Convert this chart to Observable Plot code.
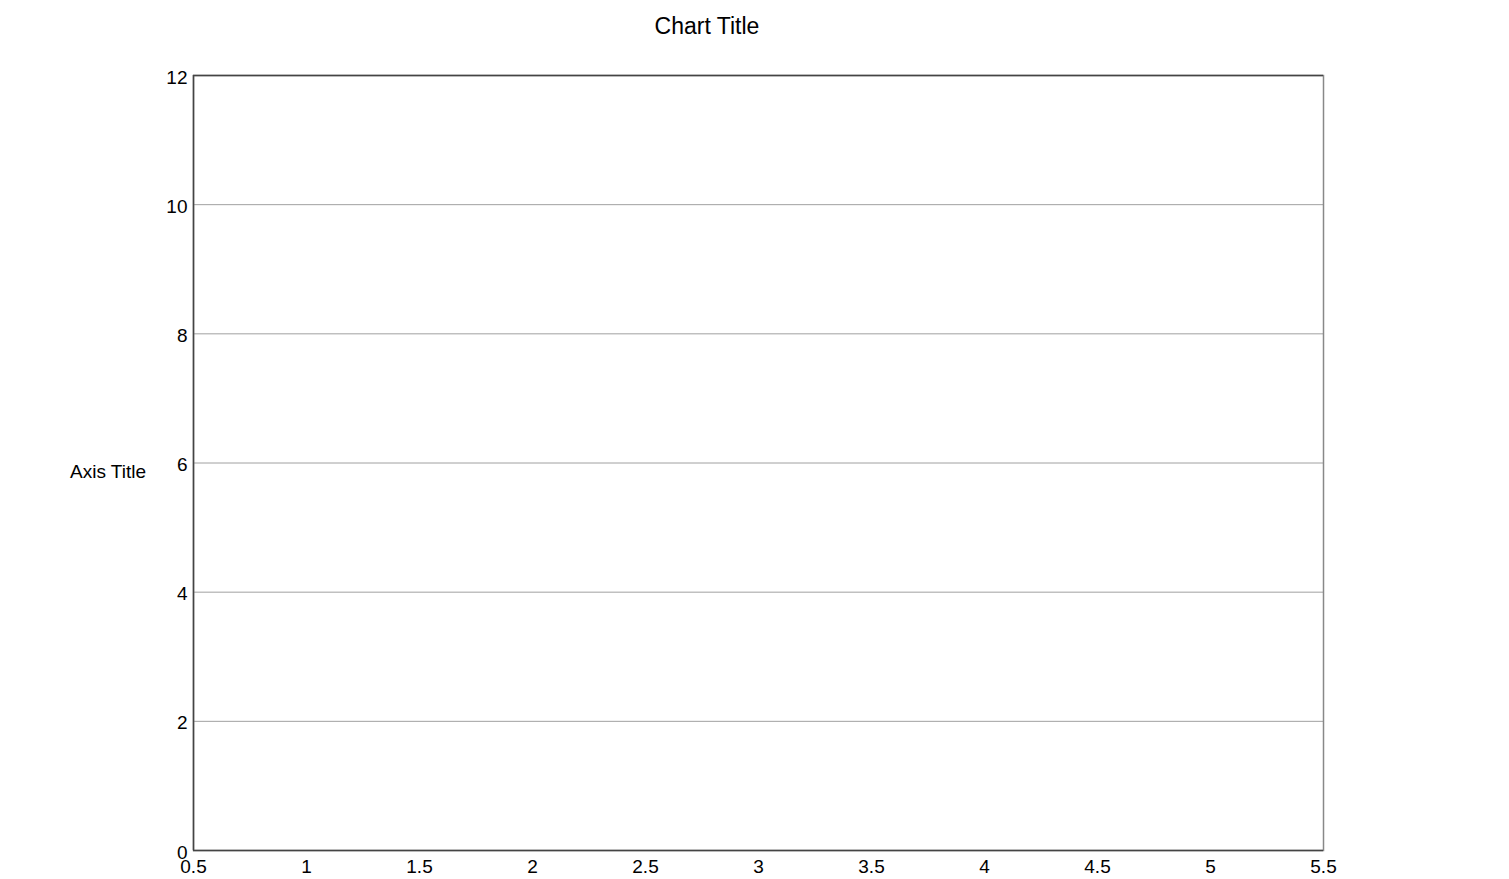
<!DOCTYPE html>
<html>
<head>
<meta charset="utf-8">
<script src="https://cdn.jsdelivr.net/npm/d3@7"></script>
<script src="https://cdn.jsdelivr.net/npm/@observablehq/plot@0.6"></script>
<style>
  html, body { margin: 0; padding: 0; background: #fff; }
  #wrap { position: relative; width: 1509px; height: 879px; font-family: "Liberation Sans", Arial, sans-serif; }
  #title { position: absolute; left: 0; width: 1414px; top: 13px; text-align: center; font-size: 23px; color: #000; }
  #ytitle { position: absolute; left: 70px; top: 461px; font-size: 19px; color: #000; }
  #chart { position: absolute; left: 0; top: 0; }
</style>
</head>
<body>
<div id="wrap">
  <div id="chart"></div>
  <div id="title">Chart Title</div>
  <div id="ytitle">Axis Title</div>
</div>
<script>
const xDomain = [0.5, 5.5];
const yDomain = [0, 12];
const xTicks = [0.5, 1, 1.5, 2, 2.5, 3, 3.5, 4, 4.5, 5, 5.5];
const yTicks = [0, 2, 4, 6, 8, 10, 12];
const gridValues = [2, 4, 6, 8, 10];

const chart = Plot.plot({
  width: 1509,
  height: 879,
  marginLeft: 193,
  marginRight: 186,
  marginTop: 75,
  marginBottom: 29,
  style: { fontFamily: "Liberation Sans, Arial, sans-serif", fontSize: "19px", color: "#000", background: "#fff" },
  x: { domain: xDomain, ticks: xTicks, tickFormat: d => String(d), label: null },
  y: { domain: yDomain, ticks: yTicks, tickFormat: d => String(d), label: null },
  marks: [
    Plot.ruleY(gridValues, { stroke: "#a0a0a0", strokeWidth: 1 }),
    Plot.axisX({ ticks: xTicks, tickSize: 0, tickPadding: 6, dy: 3, tickFormat: d => String(d), label: null, fontSize: 19 }),
    Plot.axisY({ ticks: yTicks, tickSize: 0, tickPadding: 6, dy: 2, tickFormat: d => String(d), label: null, fontSize: 19 }),
    Plot.frame({ stroke: "#888", strokeWidth: 1.5 }),
    Plot.ruleY([yDomain[0], yDomain[1]], { stroke: "#444", strokeWidth: 1.5 }),
    Plot.ruleX([xDomain[0]], { stroke: "#444", strokeWidth: 1.5 })
  ]
});
document.getElementById("chart").appendChild(chart);
</script>
</body>
</html>
